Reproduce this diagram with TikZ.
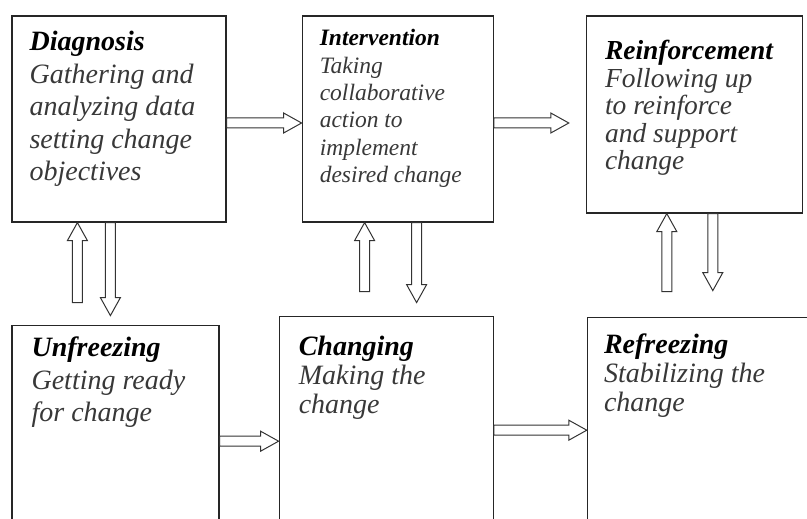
\documentclass[tikz,border=0pt]{standalone}
\usepackage{fontspec}
\setmainfont{Liberation Serif}
\usetikzlibrary{positioning,calc}

% bold heading line, strut keeps the first baseline fixed
\newcommand{\head}[1]{\rule{0pt}{0.8em}\textcolor{black}{\textbf{#1}}}
% hollow block arrow from #1 to #2
\newcommand{\fatarrow}[2]{%
  \coordinate (fa-s) at (#1);
  \coordinate (fa-t) at (#2);
  \coordinate (fa-h) at ($(fa-t)!18pt!(fa-s)$);
  \draw[fatline] ($(fa-s)!5pt!90:(fa-t)$) -- ($(fa-h)!5pt!90:(fa-t)$)
    -- ($(fa-h)!10pt!90:(fa-t)$) -- (fa-t) -- ($(fa-h)!10pt!-90:(fa-t)$)
    -- ($(fa-h)!5pt!-90:(fa-t)$) -- ($(fa-s)!5pt!-90:(fa-t)$) -- cycle;
}

\begin{document}
\begin{tikzpicture}[x=1pt, y=-1pt,
  stage/.style={draw=black!85, line width=1.2pt, inner sep=0pt},
  txt/.style={inner sep=0pt, align=left, text=black!78},
  fatline/.style={draw=black!80, line width=1pt, line join=miter}
]
\useasboundingbox (0,0) rectangle (807,519);
\clip (0,0) rectangle (807,519);

% upper row
\node[stage, minimum width=214pt, minimum height=206pt] (dg) at (119,119) {};
\node[stage, minimum width=191pt, minimum height=206pt, right=75pt of dg] (iv) {};
\node[stage, minimum width=216pt, minimum height=197pt,
      right=92pt of iv.north east, anchor=north west] (rf) {};
% lower row, runs off the bottom edge
\node[stage, minimum width=207pt, minimum height=240pt,
      below=102pt of dg.south west, anchor=north west] (uf) {};
\node[stage, minimum width=214pt, minimum height=240pt,
      right=59pt of uf.north east, anchor=north west, yshift=9pt] (cg) {};
\node[stage, minimum width=240pt, minimum height=240pt,
      right=93pt of cg.north east, anchor=north west, yshift=-1pt] (rz) {};

% box texts
\node[txt, font=\fontsize{28}{32.5}\selectfont\itshape,
      below right=12.6pt and 18pt of dg.north west] (dgtxt)
  {\head{Diagnosis}\\Gathering and\\analyzing data\\setting change\\objectives};
\node[txt, font=\fontsize{23.5}{27.4}\selectfont\itshape,
      below right=11.2pt and 18pt of iv.north west] (ivtxt)
  {\head{Intervention}\\Taking\\collaborative\\action to\\implement\\desired change};
\node[txt, font=\fontsize{27.5}{27.5}\selectfont\itshape,
      below right=22pt and 19pt of rf.north west] (rftxt)
  {\head{Reinforcement}\\Following up\\to reinforce\\and support\\change};
\node[txt, font=\fontsize{28}{32.5}\selectfont\itshape,
      below right=9.6pt and 20pt of uf.north west] (uftxt)
  {\head{Unfreezing}\\Getting ready\\for change};
\node[txt, font=\fontsize{28}{29}\selectfont\itshape,
      below right=17.6pt and 20pt of cg.north west] (cgtxt)
  {\head{Changing}\\Making the\\change};
\node[txt, font=\fontsize{28}{29}\selectfont\itshape,
      below right=14.6pt and 17pt of rz.north west] (rztxt)
  {\head{Refreezing}\\Stabilizing the\\change};

% arrows along the rows
\fatarrow{[yshift=-4pt]dg.east}{[yshift=-4pt]iv.west}
\fatarrow{[yshift=-4pt]iv.east}{[xshift=-17pt,yshift=-8.5pt]rf.west}
\fatarrow{[yshift=4pt]uf.east}{[yshift=-5pt]cg.west}
\fatarrow{[yshift=6pt]cg.east}{[yshift=7pt]rz.west}

% arrows between the rows
\fatarrow{[xshift=66pt,yshift=22pt]uf.north west}{[xshift=66pt]dg.south west}
\fatarrow{[xshift=99pt]dg.south west}{[xshift=99pt,yshift=9pt]uf.north west}
\fatarrow{[xshift=86pt,yshift=24pt]cg.north west}{[xshift=63pt]iv.south west}
\fatarrow{[xshift=115pt]iv.south west}{[xshift=138pt,yshift=13pt]cg.north west}
\fatarrow{[xshift=80pt,yshift=25pt]rz.north west}{[xshift=81pt]rf.south west}
\fatarrow{[xshift=127pt]rf.south west}{[xshift=126pt,yshift=26pt]rz.north west}
\end{tikzpicture}
\end{document}
